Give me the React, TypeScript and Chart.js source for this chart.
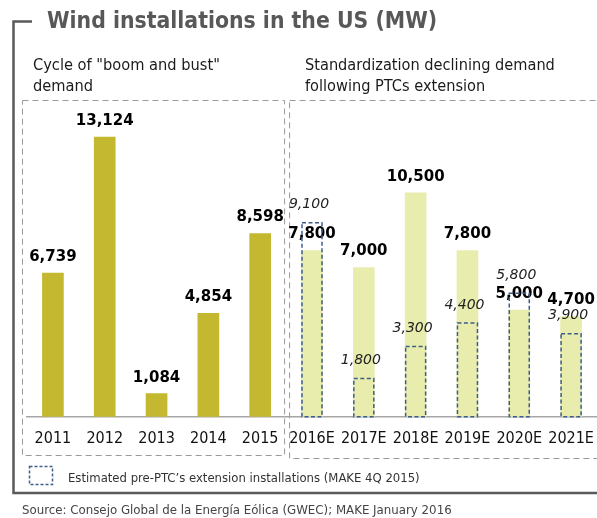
import React, { useEffect, useRef } from "react";
import { Chart, registerables } from "chart.js";

Chart.register(...registerables);

// ---- data ----
const categories = ["2011", "2012", "2013", "2014", "2015", "2016E", "2017E", "2018E", "2019E", "2020E", "2021E"];
const installed = [6739, 13124, 1084, 4854, 8598, 7800, 7000, 10500, 7800, 5000, 4700];
const prePtcEstimate: (number | null)[] = [null, null, null, null, null, 9100, 1800, 3300, 4400, 5800, 3900];
const historicCount = 5;

const titleText = "Wind installations in the US (MW)";
const leftSubtitle = ['Cycle of "boom and bust"', "demand"];
const rightSubtitle = ["Standardization declining demand", "following PTCs extension"];
const legendText = "Estimated pre-PTC\u2019s extension installations (MAKE 4Q 2015)";
const sourceText = "Source: Consejo Global de la Energía Eólica (GWEC); MAKE January 2016";

// ---- styles ----
const FONT = '"DejaVu Sans Condensed", "Liberation Sans", sans-serif';
const BOLD_FONT = '"DejaVu Sans", sans-serif';
const DARK = "#C3B830";
const LIGHT = "#E8ECAD";
const BLUE = "#3D5E8C";
const GRAYDASH = "#9A9A9A";
const FRAME = "#5A5A5A";

function fitFont(ctx: CanvasRenderingContext2D, text: string, prefix: string, family: string, target: number, base: number) {
  ctx.font = `${prefix} ${base}px ${family}`;
  const w = ctx.measureText(text).width;
  const size = (base * target) / w;
  ctx.font = `${prefix} ${size.toFixed(2)}px ${family}`;
}

const fmt = (v: number) => v.toLocaleString("en-US");

const decorPlugin = {
  id: "decor",
  beforeDatasetsDraw(chart: any) {
    const ctx: CanvasRenderingContext2D = chart.ctx;
    const xs = chart.scales.x;
    const area = chart.chartArea;
    const boundary = (xs.getPixelForValue(historicCount - 1) + xs.getPixelForValue(historicCount)) / 2;
    ctx.save();
    ctx.strokeStyle = GRAYDASH;
    ctx.lineWidth = 1;
    ctx.setLineDash([6, 4]);
    ctx.strokeRect(area.left - 4.5, 100.5, boundary - 1.5 - (area.left - 4.5), 355);
    ctx.strokeRect(boundary + 3.5, 100.5, chart.width + 10 - boundary, 358);
    ctx.restore();
  },
  afterDraw(chart: any) {
    const ctx: CanvasRenderingContext2D = chart.ctx;
    ctx.save();
    // frame bracket
    ctx.strokeStyle = FRAME;
    ctx.lineWidth = 2.5;
    ctx.setLineDash([]);
    ctx.beginPath();
    ctx.moveTo(32, 21.5);
    ctx.lineTo(13.5, 21.5);
    ctx.lineTo(13.5, 493);
    ctx.lineTo(chart.width, 493);
    ctx.stroke();

    // title
    ctx.fillStyle = "#585858";
    ctx.textBaseline = "alphabetic";
    ctx.textAlign = "left";
    fitFont(ctx, titleText, "bold", FONT, 390, 20);
    ctx.fillText(titleText, 47, 28);

    // subtitles
    ctx.fillStyle = "#1a1a1a";
    fitFont(ctx, leftSubtitle[0], "normal", FONT, 187, 16);
    ctx.fillText(leftSubtitle[0], 33, 70);
    ctx.fillText(leftSubtitle[1], 33, 91);
    fitFont(ctx, rightSubtitle[0], "normal", FONT, 250, 16);
    ctx.fillText(rightSubtitle[0], 305, 70);
    ctx.fillText(rightSubtitle[1], 305, 91);

    // bar value labels
    const m0 = chart.getDatasetMeta(0);
    ctx.textAlign = "center";
    ctx.textBaseline = "middle";
    ctx.fillStyle = "#000";
    ctx.font = `bold 15px ${BOLD_FONT}`;
    m0.data.forEach((el: any, i: number) => {
      const p = el.getProps(["x", "y"], true);
      ctx.fillText(fmt(installed[i]), p.x, p.y - 16);
    });

    // estimate boxes + labels
    const m1 = chart.getDatasetMeta(1);
    m1.data.forEach((el: any, i: number) => {
      const v = prePtcEstimate[i];
      if (v == null) return;
      const p = el.getProps(["x", "y", "base", "width"], true);
      ctx.strokeStyle = BLUE;
      ctx.lineWidth = 1.5;
      ctx.setLineDash([4, 2.5]);
      ctx.strokeRect(p.x - p.width / 2, p.y, p.width, p.base - p.y);
      ctx.setLineDash([]);
      ctx.fillStyle = "#222";
      ctx.font = `italic 14px "DejaVu Sans", sans-serif`;
      ctx.fillText(fmt(v), p.x - 3, p.y - 18);
    });

    // legend
    ctx.strokeStyle = BLUE;
    ctx.lineWidth = 1.5;
    ctx.setLineDash([3, 2]);
    ctx.strokeRect(29.5, 466.5, 23, 18);
    ctx.setLineDash([]);
    ctx.fillStyle = "#333";
    ctx.textAlign = "left";
    ctx.textBaseline = "alphabetic";
    fitFont(ctx, legendText, "normal", FONT, 352, 13);
    ctx.fillText(legendText, 68, 482);

    // source
    ctx.fillStyle = "#444";
    fitFont(ctx, sourceText, "normal", FONT, 430, 13);
    ctx.fillText(sourceText, 22, 514);
    ctx.restore();
  },
};

export default function App() {
  const ref = useRef<HTMLCanvasElement>(null);
  useEffect(() => {
    document.body.style.margin = "0";
    const chart = new Chart(ref.current!, {
      type: "bar",
      data: {
        labels: categories,
        datasets: [
          {
            label: "Installations (MW)",
            data: installed,
            backgroundColor: installed.map((_, i) => (i < historicCount ? DARK : LIGHT)),
            borderWidth: 0,
            barThickness: 21,
            grouped: false,
            order: 1,
          },
          {
            label: "Estimated pre-PTC's extension installations",
            data: prePtcEstimate,
            backgroundColor: "rgba(0,0,0,0)",
            borderWidth: 0,
            barThickness: 20,
            grouped: false,
            order: 0,
          },
        ],
      },
      options: {
        responsive: false,
        animation: false,
        layout: { padding: { top: 97, left: 27, right: 0, bottom: 58 } },
        plugins: { legend: { display: false }, tooltip: { enabled: false }, title: { display: false } },
        scales: {
          x: {
            grid: { display: false, drawTicks: false },
            border: { display: true, color: "#A6A6A6", width: 1.5 },
            ticks: { color: "#111", font: { family: FONT, size: 16 }, padding: 12, maxRotation: 0, autoSkip: false },
            afterFit: (scale: any) => {
              scale.paddingLeft = 0;
              scale.paddingRight = 0;
            },
          },
          y: { display: false, min: 0, max: 15000 },
        },
      },
      plugins: [decorPlugin],
    });
    return () => chart.destroy();
  }, []);
  return <canvas ref={ref} width={597} height={518} style={{ display: "block", width: 597, height: 518 }} />;
}
